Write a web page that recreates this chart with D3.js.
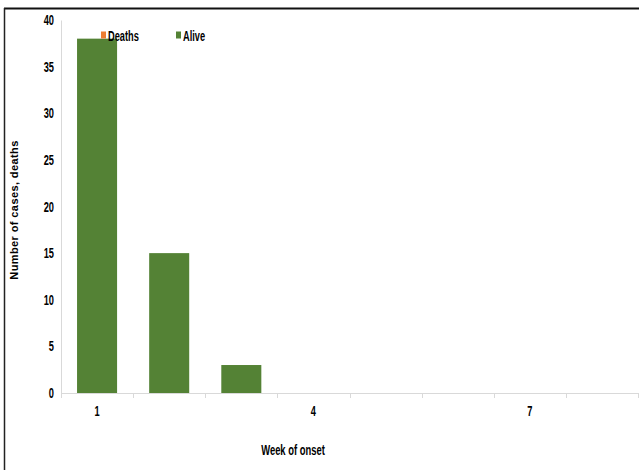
<!DOCTYPE html>
<html>
<head>
<meta charset="utf-8">
<script src="https://cdn.jsdelivr.net/npm/d3@7"></script>
<style>
  html, body { margin: 0; padding: 0; background: #fff; }
  svg { display: block; }
  .cond { font-family: "Liberation Sans", Arial, sans-serif; font-weight: bold; fill: #000; }
</style>
</head>
<body>
<svg id="chart" width="639" height="470"></svg>
<script>
// Weekly counts by week of onset
const weeks = [1, 2, 3, 4, 5, 6, 7, 8];
const deaths = [0, 0, 0, 0, 0, 0, 0, 0];
const alive = [38, 15, 3, 0, 0, 0, 0, 0];
const yTicks = [0, 5, 10, 15, 20, 25, 30, 35, 40];
const xLabelWeeks = [1, 4, 7];
const seriesNames = ["Deaths", "Alive"];
const seriesColors = ["#ED7D31", "#548235"];

const svg = d3.select("#chart");

// Condensed text placed at (px, py)
function condText(parent, px, py, size, anchor, str, squeeze) {
  return parent.append("text")
    .attr("class", "cond")
    .attr("transform", `translate(${px},${py}) scale(${squeeze || 0.66},1)`)
    .attr("font-size", size)
    .attr("text-anchor", anchor)
    .text(str);
}

// Frame lines along the top and left edges
svg.append("line").attr("x1", 4).attr("x2", 639).attr("y1", 8.5).attr("y2", 8.5)
  .attr("stroke", "#111").attr("stroke-width", 2);
svg.append("line").attr("x1", 4.5).attr("x2", 4.5).attr("y1", 8).attr("y2", 470)
  .attr("stroke", "#222").attr("stroke-width", 1.5);

const plot = { left: 61, right: 638, top: 20, bottom: 393 };

const x = d3.scaleBand().domain(weeks).range([plot.left, plot.right]).paddingInner(0.445).paddingOuter(0.2225);
const xCat = d3.scaleBand().domain(weeks).range([plot.left, plot.right]);
const y = d3.scaleLinear().domain([0, 40]).range([plot.bottom, plot.top]);

// Stacked layout: deaths at the bottom, alive on top
const table = weeks.map((w, i) => ({ week: w, Deaths: deaths[i], Alive: alive[i] }));
const stack = d3.stack().keys(seriesNames)(table);

svg.append("g").selectAll("g").data(stack).join("g")
  .attr("fill", (d, i) => seriesColors[i])
  .selectAll("rect").data(d => d).join("rect")
  .attr("x", d => x(d.data.week))
  .attr("width", x.bandwidth())
  .attr("y", d => y(d[1]))
  .attr("height", d => y(d[0]) - y(d[1]));

// Y axis line and condensed tick labels
const yAxis = d3.axisLeft(y).tickValues(yTicks).tickSize(0).tickFormat("");
const gy = svg.append("g").attr("transform", `translate(${plot.left},0)`).call(yAxis);
gy.select(".domain").attr("stroke", "#d9d9d9");
yTicks.forEach(t => condText(svg, 54, y(t) + 5, 14, "end", t));

// X axis: boundaries between weeks, labels every third week
const gx = svg.append("g").attr("transform", `translate(0,${plot.bottom})`);
gx.append("line").attr("x1", plot.left).attr("x2", plot.right).attr("y1", 0.5).attr("y2", 0.5)
  .attr("stroke", "#d9d9d9");
const bounds = weeks.map(w => xCat(w)).concat([plot.right]);
gx.selectAll("line.tick").data(bounds).join("line").attr("class", "tick")
  .attr("x1", d => Math.round(d) + 0.5).attr("x2", d => Math.round(d) + 0.5)
  .attr("y1", 0).attr("y2", 5).attr("stroke", "#d9d9d9");
xLabelWeeks.forEach(w => condText(gx, xCat(w) + xCat.bandwidth() / 2, 22.5, 14, "middle", w));

// Axis titles
condText(svg, 293, 455, 14.5, "middle", "Week of onset", 0.65);
svg.append("text")
  .attr("transform", "translate(18,210) rotate(-90)")
  .attr("text-anchor", "middle")
  .attr("font-family", "Liberation Sans, Arial, sans-serif")
  .attr("font-weight", "bold").attr("font-size", 11)
  .attr("letter-spacing", 0.4)
  .text("Number of cases, deaths");

// Legend
const legendX = [101, 176];
seriesNames.forEach((name, i) => {
  svg.append("rect").attr("x", legendX[i]).attr("y", 31.5).attr("width", 5).attr("height", 7)
    .attr("fill", seriesColors[i]);
  condText(svg, legendX[i] + 7, 40.5, 14, "start", name);
});
</script>
</body>
</html>
